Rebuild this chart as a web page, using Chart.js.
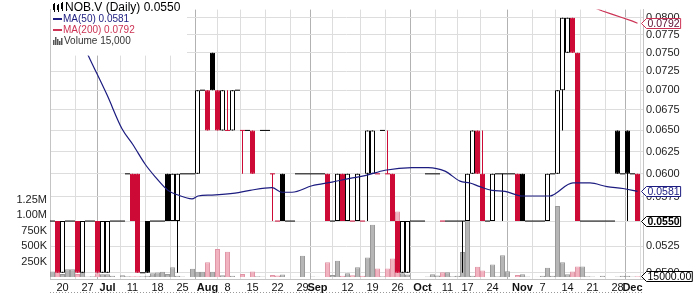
<!DOCTYPE html>
<html><head><meta charset="utf-8">
<script src="https://cdn.jsdelivr.net/npm/chart.js@4.4.1/dist/chart.umd.min.js"></script>
<style>html,body{margin:0;padding:0;background:#fff;}#wrap{width:700px;height:293px;}</style>
</head><body><div id="wrap"><canvas id="c" width="700" height="293"></canvas></div>
<script>
const ticker = 'NOB.V';
const tickIdx  = [2,7,11,16,21,26,31,35,40,45,50,53,59,64,69,74,79,83,88,94,98,103,108,113,116];
const tickText = ['20','27','Jul','11','18','25','Aug','8','15','22','29','Sep','12','19','26','Oct','11','17','24','Nov','7','14','21','28','Dec'];
const priceTicks = [0.05,0.0525,0.055,0.0575,0.06,0.0625,0.065,0.0675,0.07,0.0725,0.075,0.0775,0.08];
const volTicks = [250000,500000,750000,1000000,1250000];
const volTickText = ['250K','500K','750K','1.00M','1.25M'];

const opens = [
.055,.055,.05,.055,.055,.055,.05,.055,.055,.055,
.05,.05,.055,.055,.055,.06,.06,.06,.05,.055,
.055,.055,.055,.06,.055,.055,.06,.06,.06,.06,
.07,.07,.075,.07,.065,.065,.065,.07,.065,.065,
.065,null,.065,.065,.06,.055,.06,.055,.055,.06,
.06,.06,.06,.06,.06,.06,.055,.055,.06,.055,
.055,.055,.055,.06,.06,.06,.065,.06,.06,.055,
.05,.05,.055,.055,.055,.06,.06,.06,.055,.055,
.055,.055,.055,.055,.06,.065,.06,.055,.055,.06,
.06,.06,.06,.06,.06,.055,.055,.055,.055,.055,
.06,.06,.07,.075,.08,.075,.055,.055,.055,.055,
.055,.055,.055,.065,.06,.065,.06,.06];
const highs = [
.055,.055,.055,.055,.055,.055,.055,.055,.055,.055,
.055,.055,.055,.055,.055,.06,.06,.06,.05,.055,
.055,.055,.055,.06,.06,.06,.06,.06,.06,.07,
.07,.07,.075,.07,.07,.07,.07,.07,.065,.065,
.065,null,.065,.065,.06,.055,.06,.055,.055,.06,
.06,.06,.06,.06,.06,.06,.055,.06,.06,.06,
.055,.06,.055,.065,.065,.06,.065,.065,.06,.055,
.055,.055,.055,.055,.055,.06,.06,.06,.055,.055,
.055,.055,.055,.06,.065,.065,.065,.055,.06,.06,
.06,.06,.06,.06,.06,.055,.055,.055,.055,.06,
.06,.07,.08,.08,.08,.075,.055,.055,.055,.055,
.055,.055,.055,.065,.06,.065,.06,.06];
const lows = [
.055,.05,.05,.055,.055,.05,.05,.055,.055,.05,
.05,.05,.055,.055,.055,.06,.055,.05,.05,.05,
.055,.055,.055,.055,.055,.05,.06,.06,.06,.06,
.07,.065,.07,.065,.065,.065,.065,.07,.06,.065,
.06,null,.065,.065,.055,.055,.055,.055,.055,.06,
.06,.06,.06,.06,.06,.055,.055,.055,.055,.055,
.055,.055,.055,.055,.06,.06,.065,.06,.055,.05,
.05,.05,.055,.055,.055,.06,.06,.06,.055,.055,
.055,.055,.05,.055,.06,.06,.055,.055,.055,.06,
.055,.06,.06,.055,.055,.055,.055,.055,.055,.055,
.06,.06,.065,.075,.075,.055,.055,.055,.055,.055,
.055,.055,.055,.06,.06,.055,.06,.055];
const closes = [
.055,.05,.055,.055,.055,.05,.055,.055,.055,.05,
.055,.055,.055,.055,.055,.06,.055,.05,.05,.05,
.055,.055,.055,.055,.06,.06,.06,.06,.06,.07,
.07,.065,.07,.065,.07,.065,.07,.07,.065,.065,
.06,null,.065,.065,.06,.055,.055,.055,.055,.06,
.06,.06,.06,.06,.06,.055,.055,.06,.055,.06,
.055,.06,.055,.065,.065,.06,.065,.06,.055,.05,
.055,.055,.055,.055,.055,.06,.06,.06,.055,.055,
.055,.055,.055,.06,.065,.06,.055,.055,.06,.06,
.06,.06,.06,.055,.055,.055,.055,.055,.055,.06,
.06,.07,.08,.08,.075,.055,.055,.055,.055,.055,
.055,.055,.055,.06,.06,.06,.06,.055];
const volumes = [
90000,700000,50000,125000,125000,50000,190000,10000,15000,60000,
45000,45000,20000,0,30000,15000,15000,15000,15000,20000,
60000,75000,85000,50000,160000,20000,10000,0,135000,85000,
85000,240000,85000,455000,30000,410000,20000,0,50000,0,
90000,15000,8000,0,35000,25000,40000,0,5000,5000,
345000,0,10000,5000,0,240000,35000,265000,20000,60000,
30000,160000,20000,315000,845000,140000,15000,140000,300000,1060000,
60000,40000,0,0,0,8000,45000,25000,80000,80000,
15000,20000,405000,1175000,20000,165000,105000,0,205000,15000,
355000,95000,0,35000,45000,10000,0,5000,20000,150000,
20000,1150000,240000,45000,90000,170000,170000,15000,8000,0,
20000,0,0,10000,20000,20000,8000,15000];
const ma50Idx = [0,3,5,7.1,10.9,13.9,16.1,18.5,20.5,23.1,25.1,27.9,29.1,31.9,36.5,39.5,43.9,45.9,47.9,51.9,
55.9,59.5,62.5,66.5,71.9,75.1,78.5,81.5,83.5,85.5,87.9,90.5,93.9,99.5,100.1,104.1,107.5,110.9,114.1,117];
const ma50Val = [.0866,.0812,.0780,.0747,.0694,.0652,.0633,.0611,.0597,.0582,.0577,.0573,.0576,.0577,.0579,.0582,.0585,.0580,.0580,.0587,
.0591,.0595,.0598,.0604,.0607,.0607,.0603,.0592,.0590,.0586,.0582,.0581,.0576,.0576,.0577,.0590,.0590,.0586,.0584,.0581];
const ma200Idx = [104,106,108,110,112,114,116,117];
const ma200Val = [.0826,.0821,.0816,.0810,.0805,.0800,.0795,.0792];

const RED = '#cc0a35', BLACK = '#000000', NAVY = '#1c1c80', MA200C = '#cc3355';
const N = closes.length;
const prevClose = []; { let pc = null; for (let i = 0; i < N; i++) { prevClose.push(pc); if (closes[i] != null) pc = closes[i]; } }
const isDown = i => prevClose[i] != null && closes[i] != null && closes[i] < prevClose[i] - 1e-9;
const colOf = i => isDown(i) ? RED : BLACK;

const volData = [], volBg = [], volBd = [];
const wickData = [], wickCol = [];
const bodyData = [], bodyBg = [], bodyBd = [];
const dashData = [], dashCol = [];
for (let i = 0; i < N; i++) {
  if (volumes[i] > 0) {
    volData.push({x: i, y: volumes[i]});
    volBg.push(isDown(i) ? '#f1b3bf' : '#b6b6b6');
    volBd.push(isDown(i) ? '#e096a6' : '#999999');
  }
  if (closes[i] == null) continue;
  const c = colOf(i);
  if (highs[i] > lows[i]) { wickData.push({x: i, y: [lows[i], highs[i]]}); wickCol.push(c); }
  if (opens[i] !== closes[i]) {
    bodyData.push({x: i, y: [opens[i], closes[i]]});
    bodyBg.push(closes[i] > opens[i] ? '#ffffff' : c);
    bodyBd.push(c);
  } else {
    dashData.push({x: i, y: closes[i]}); dashCol.push(c);
  }
}
const monthSet = new Set(tickText.filter(t => /^[A-Z]/.test(t)));
const labelAt = v => { const k = tickIdx.indexOf(Math.round(v)); return k >= 0 ? tickText[k] : ''; };
const FONT = 'Liberation Sans';

const overlay = {
  id: 'overlay',
  afterDatasetsDraw(chart) {
    const ctx = chart.ctx, a = chart.chartArea;
    ctx.save();
    ctx.fillStyle = '#ffffff';
    ctx.fillRect(a.left + 1, a.top, 136, 46);
    ctx.textBaseline = 'middle';
    ctx.fillStyle = '#000';
    ctx.fillRect(53, 4, 2, 6); ctx.fillRect(54, 3, 1, 9);
    ctx.fillRect(57, 5, 2, 5); ctx.fillRect(58, 4, 1, 8);
    ctx.fillRect(61, 3, 2, 6); ctx.fillRect(62, 2, 1, 9);
    ctx.font = '12px "' + FONT + '"';
    ctx.fillText(ticker + ' (Daily) ' + closes[N - 1].toFixed(4), 65, 8);
    ctx.font = '10px "' + FONT + '"';
    ctx.fillStyle = NAVY; ctx.fillRect(53, 18, 9, 2);
    ctx.fillText('MA(50) ' + ma50Val[ma50Val.length - 1].toFixed(4), 63, 19.5);
    ctx.fillStyle = MA200C; ctx.fillRect(53, 29, 9, 2);
    ctx.fillText('MA(200) ' + ma200Val[ma200Val.length - 1].toFixed(4), 63, 30.5);
    ctx.fillStyle = '#555';
    [[53,5],[55,8],[57,6],[59,4],[61,7]].forEach(([x, h]) => ctx.fillRect(x, 45 - h, 1.5, h));
    ctx.fillStyle = '#333';
    ctx.fillText('Volume ' + volumes[N - 1].toLocaleString('en-US'), 64, 41.5);
    ctx.restore();
  },
  afterDraw(chart) {
    const ctx = chart.ctx, a = chart.chartArea;
    const py = chart.scales.y, vy = chart.scales.vol;
    ctx.save();
    ctx.strokeStyle = '#999'; ctx.setLineDash([1, 2]); ctx.lineWidth = 1;
    ctx.beginPath(); ctx.moveTo(a.left, 292.5); ctx.lineTo(a.right, 292.5); ctx.stroke();
    ctx.setLineDash([]);
    const badge = (y, text, bc, tc, bold) => {
      y = Math.round(y) + 0.5;
      ctx.font = (bold ? 'bold ' : '') + '10.5px "' + FONT + '"';
      const w = ctx.measureText(text).width;
      const x0 = a.right - 1.5, xl = a.right + 3.5, xr = xl + w + 2, h = 5;
      ctx.beginPath();
      ctx.moveTo(x0, y); ctx.lineTo(xl, y - h); ctx.lineTo(xr, y - h); ctx.lineTo(xr, y + h); ctx.lineTo(xl, y + h); ctx.closePath();
      ctx.fillStyle = '#fff'; ctx.fill();
      ctx.strokeStyle = bc; ctx.lineWidth = 1; ctx.stroke();
      ctx.fillStyle = tc; ctx.textBaseline = 'middle'; ctx.textAlign = 'left';
      ctx.fillText(text, xl + 1, y + 0.5);
    };
    badge(py.getPixelForValue(ma200Val[ma200Val.length - 1]), ma200Val[ma200Val.length - 1].toFixed(4), MA200C, '#5a1030', false);
    badge(py.getPixelForValue(ma50Val[ma50Val.length - 1]), ma50Val[ma50Val.length - 1].toFixed(4), NAVY, NAVY, false);
    badge(py.getPixelForValue(closes[N - 1]), closes[N - 1].toFixed(4), '#000', '#000', true);
    badge(vy.getPixelForValue(volumes[N - 1]), volumes[N - 1].toFixed(2), '#000', '#000', false);
    ctx.restore();
  }
};

new Chart(document.getElementById('c'), {
  type: 'bar',
  data: {
    datasets: [
      { type: 'line', label: 'MA50', data: ma50Idx.map((x, k) => ({x, y: ma50Val[k]})), yAxisID: 'y',
        borderColor: NAVY, borderWidth: 1.2, pointRadius: 0, cubicInterpolationMode: 'monotone', order: 1 },
      { type: 'line', label: 'MA200', data: ma200Idx.map((x, k) => ({x, y: ma200Val[k]})), yAxisID: 'y',
        borderColor: MA200C, borderWidth: 1.2, pointRadius: 0, order: 1 },
      { type: 'line', label: 'flat', data: dashData, yAxisID: 'y', showLine: false,
        pointStyle: 'line', pointRadius: 2.5, pointBorderWidth: 1, pointBorderColor: dashCol, order: 3 },
      { type: 'bar', label: 'body', data: bodyData, yAxisID: 'y', grouped: false, barThickness: 5,
        backgroundColor: bodyBg, borderColor: bodyBd, borderWidth: 1, borderSkipped: false, inflateAmount: 0, order: 4 },
      { type: 'bar', label: 'wick', data: wickData, yAxisID: 'y', grouped: false, barThickness: 1,
        backgroundColor: wickCol, borderWidth: 0, inflateAmount: 0, order: 5 },
      { type: 'bar', label: 'volume', data: volData, yAxisID: 'vol', grouped: false, barThickness: 5,
        backgroundColor: volBg, borderColor: volBd, borderWidth: 1, borderSkipped: 'start', inflateAmount: 0, order: 10 }
    ]
  },
  options: {
    responsive: false, animation: false, events: [], devicePixelRatio: 1,
    layout: { padding: 0 },
    plugins: { legend: { display: false }, tooltip: { enabled: false } },
    scales: {
      x: {
        type: 'linear', min: -0.5, max: 118.1, offset: false,
        afterBuildTicks: s => { s.ticks = tickIdx.map(v => ({value: v})); },
        afterFit: s => { s.height = 14; },
        grid: { drawTicks: false, lineWidth: 1,
          color: c => monthSet.has(labelAt(c.tick ? c.tick.value : -1)) ? '#b2b2b2' : '#dddddd' },
        border: { display: true, color: '#c4c4c4' },
        ticks: { autoSkip: false, maxRotation: 0, minRotation: 0, padding: 2,
          callback: v => labelAt(v),
          color: '#111',
          font: c => ({ family: FONT, size: 11, weight: monthSet.has(labelAt(c.tick ? c.tick.value : -1)) ? 'bold' : 'normal' }) }
      },
      y: {
        type: 'logarithmic', position: 'right', min: 0.04943, max: 0.08121, bounds: 'data',
        afterBuildTicks: s => { s.ticks = priceTicks.map(v => ({value: v})); },
        afterFit: s => { s.width = 57; },
        grid: { drawTicks: false, color: '#dddddd', lineWidth: 1 },
        border: { display: true, color: '#c4c4c4' },
        ticks: { autoSkip: false, padding: 3, color: '#222', font: { family: FONT, size: 11 },
          callback: v => Number(v).toFixed(4) }
      },
      vol: {
        type: 'linear', position: 'left', min: -31250, max: 4328125, bounds: 'data',
        afterBuildTicks: s => { s.ticks = volTicks.map(v => ({value: v})); },
        afterFit: s => { s.width = 50; },
        grid: { display: false, drawTicks: false },
        border: { display: true, color: '#c4c4c4' },
        ticks: { autoSkip: false, padding: 3, color: '#222', font: { family: FONT, size: 11 },
          callback: v => { const k = volTicks.indexOf(v); return k >= 0 ? volTickText[k] : ''; } }
      }
    }
  },
  plugins: [overlay]
});
</script>
</body></html>
